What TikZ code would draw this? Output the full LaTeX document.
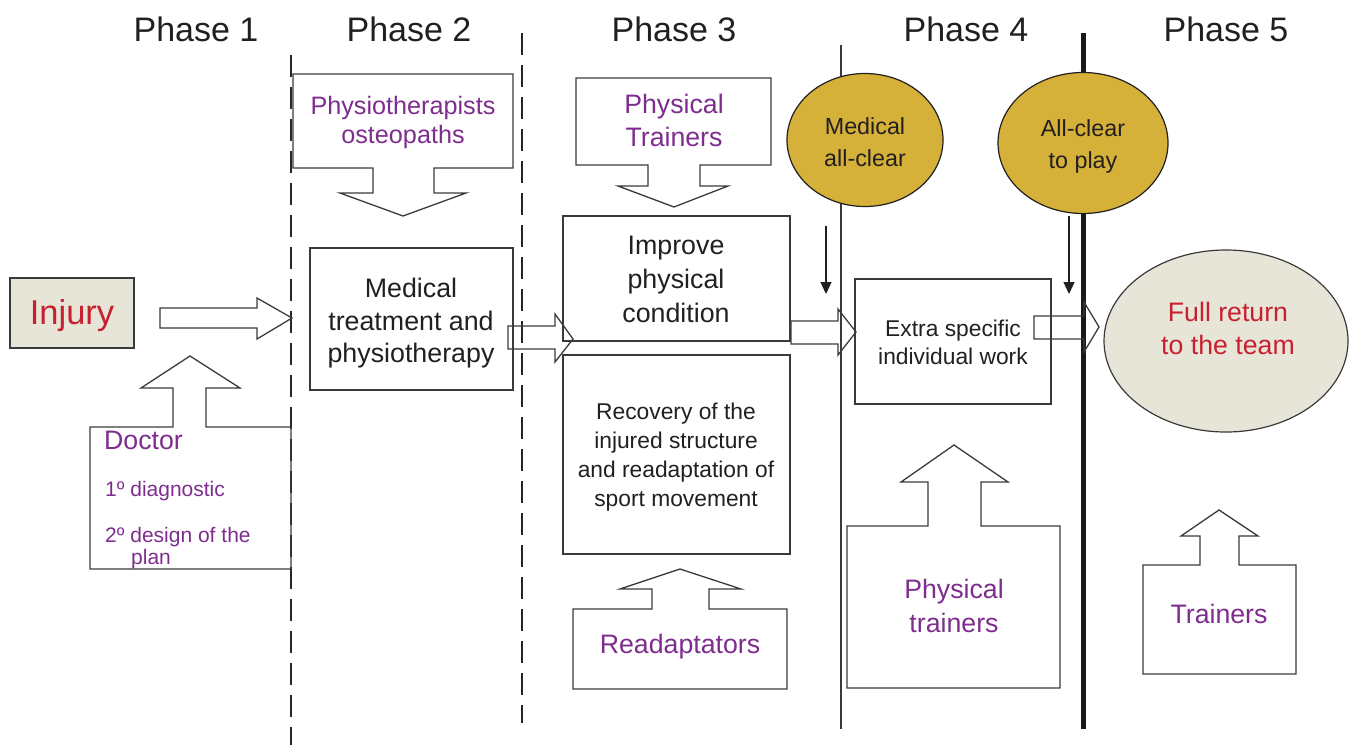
\documentclass[tikz,border=0pt]{standalone}
\usepackage{fontspec}
\setmainfont{Liberation Sans}
\usetikzlibrary{arrows.meta,shapes.geometric}
\definecolor{txt}{HTML}{231F20}
\definecolor{purp}{HTML}{7E2D8E}
\definecolor{redt}{HTML}{C8202F}
\definecolor{beige}{HTML}{E7E5D8}
\definecolor{gold}{HTML}{D5B13A}
\definecolor{edge}{HTML}{3A3A3A}
\tikzset{
  box/.style={draw=edge, line width=1.3pt, inner sep=0pt},
  shp/.style={draw=edge, line width=1.3pt, line join=miter},
  phase/.style={anchor=base, inner sep=0pt, text=txt, font=\fontsize{34}{40}\selectfont},
  bt/.style={anchor=base, inner sep=0pt, text=txt, font=\fontsize{26.8}{30}\selectfont},
  st/.style={anchor=base, inner sep=0pt, text=txt, font=\fontsize{22.8}{26}\selectfont},
  et/.style={anchor=base, inner sep=0pt, text=txt, font=\fontsize{23.3}{26}\selectfont},
  pt/.style={anchor=base, inner sep=0pt, text=purp, font=\fontsize{26.7}{30}\selectfont},
  spt/.style={anchor=base west, inner sep=0pt, text=purp, font=\fontsize{21}{24}\selectfont},
  dline/.style={line width=2.6pt, draw=black!85, dash pattern=on 22pt off 10pt},
  thin arrow/.style={draw=txt, line width=1.3pt, -{Triangle[length=12pt,width=11pt]}}
}
\begin{document}
\begin{tikzpicture}[x=1pt,y=-1pt]
\useasboundingbox (0,0) rectangle (1354,745);
% phase labels
\node[phase] (p1) at (196,41) {Phase 1};
\node[phase] (p2) at (409,41) {Phase 2};
\node[phase] (p3) at (674,41) {Phase 3};
\node[phase] (p4) at (966,41) {Phase 4};
\node[phase] (p5) at (1226,41) {Phase 5};
% separators
\coordinate (l1t) at (291,55); \coordinate (l1b) at (291,745);
\coordinate (l2t) at (522,33); \coordinate (l2b) at (522,723);
\coordinate (l3t) at (841,45); \coordinate (l3b) at (841,729);
\coordinate (l4t) at (1083,33); \coordinate (l4b) at (1083,729);
\draw[dline] (l1t) -- (l1b);
\draw[dline] (l2t) -- (l2b);
\draw[draw=edge, line width=1.5pt] (l3t) -- (l3b);
% ellipses gold
\node[ellipse, draw=txt, line width=1.2pt, fill=gold, minimum width=156pt, minimum height=133pt, inner sep=0pt] (mac) at (865,140) {};
\node[et] (mac1) at (865,134) {Medical};
\node[et] (mac2) at (865,166) {all-clear};
\draw[line width=5pt, draw=black!90] (l4t) -- (1083,72);
\draw[line width=5pt, draw=black!90] (1083,213) -- (l4b);
\node[ellipse, draw=txt, line width=1.2pt, fill=gold, minimum width=170pt, minimum height=141pt, inner sep=0pt] (acp) at (1083,143) {};
\node[et] (acp1) at (1083,136) {All-clear};
\node[et] (acp2) at (1083,168) {to play};
% Injury
\node[box, fill=beige, minimum width=124pt, minimum height=70pt] (inj) at (72,313) {};
\node[anchor=base, inner sep=0pt, text=redt, font=\fontsize{34.5}{40}\selectfont] (injt) at (72,324) {Injury};
% Injury arrow
\draw[shp] (160,308) -- (257,308) -- (257,298) -- (292,318) -- (257,339) -- (257,328) -- (160,328) -- cycle;
% Doctor callout
\draw[shp] (90,427) -- (173,427) -- (173,388) -- (141,388) -- (190,356) -- (240,388) -- (206,388) -- (206,427) -- (291,427) -- (291,569) -- (90,569) -- cycle;
\node[anchor=base west, inner sep=0pt, text=purp, font=\fontsize{26.7}{30}\selectfont] (doc) at (104,449) {Doctor};
\node[spt] (doc1) at (105,496) {1º diagnostic};
\node[spt] (doc2) at (105,542) {2º design of the};
\node[spt] (doc3) at (131,564) {plan};
% Physiotherapists callout
\draw[shp] (293,74) -- (513,74) -- (513,168) -- (434,168) -- (434,193) -- (466,193) -- (403,216) -- (340,193) -- (373,193) -- (373,168) -- (293,168) -- cycle;
\node[pt, font=\fontsize{25.2}{29}\selectfont] (phy1) at (403,114) {Physiotherapists};
\node[pt, font=\fontsize{25.2}{29}\selectfont] (phy2) at (403,143) {osteopaths};
% Medical treatment
\node[box, minimum width=203pt, minimum height=142pt] (med) at (411.5,319) {};
\node[bt] (med1) at (411,297) {Medical};
\node[bt] (med2) at (411,330) {treatment and};
\node[bt] (med3) at (411,362) {physiotherapy};
% arrow 2->3
\draw[shp] (508,326) -- (555,326) -- (555,314) -- (573,339) -- (555,362) -- (555,349) -- (508,349) -- cycle;
% Physical Trainers callout (top)
\draw[shp] (576,78) -- (771,78) -- (771,165) -- (700,165) -- (700,186) -- (728,186) -- (674,207) -- (618,186) -- (648,186) -- (648,165) -- (576,165) -- cycle;
\node[pt] (ptr1) at (674,113) {Physical};
\node[pt] (ptr2) at (674,146) {Trainers};
% Improve box
\node[box, minimum width=227pt, minimum height=125pt] (imp) at (676.5,278.5) {};
\node[bt] (imp1) at (676,254) {Improve};
\node[bt] (imp2) at (676,288) {physical};
\node[bt] (imp3) at (676,322) {condition};
% Recovery box
\node[box, minimum width=227pt, minimum height=199pt] (rec) at (676.5,454.5) {};
\node[st] (rec1) at (676,419) {Recovery of the};
\node[st] (rec2) at (676,448) {injured structure};
\node[st] (rec3) at (676,477) {and readaptation of};
\node[st] (rec4) at (676,506) {sport movement};
% Readaptators callout
\draw[shp] (573,609) -- (652,609) -- (652,589) -- (620,589) -- (680,569) -- (741,589) -- (709,589) -- (709,609) -- (787,609) -- (787,689) -- (573,689) -- cycle;
\node[pt] (rea) at (680,653) {Readaptators};
% arrow 3->4
\draw[shp] (791,321) -- (838,321) -- (838,309) -- (856,332) -- (838,355) -- (838,344) -- (791,344) -- cycle;
% thin arrows
\coordinate (a1s) at (826,226); \coordinate (a1e) at (826,294);
\coordinate (a2s) at (1069,216); \coordinate (a2e) at (1069,294);
\draw[thin arrow] (a1s) -- (a1e);
\draw[thin arrow] (a2s) -- (a2e);
% Extra specific
\node[box, minimum width=196pt, minimum height=125pt] (ext) at (953,341.5) {};
\node[st] (ext1) at (953,336) {Extra specific};
\node[st] (ext2) at (953,364) {individual work};
% arrow 4->5
\draw[shp] (1034,316) -- (1084,316) -- (1084,302) -- (1099,327) -- (1084,352) -- (1084,339) -- (1034,339) -- cycle;
% Physical trainers callout (bottom)
\draw[shp] (847,526) -- (928,526) -- (928,482) -- (901,482) -- (954,445) -- (1008,482) -- (981,482) -- (981,526) -- (1060,526) -- (1060,688) -- (847,688) -- cycle;
\node[pt] (ptb1) at (954,598) {Physical};
\node[pt] (ptb2) at (954,632) {trainers};
% Full return
\node[ellipse, draw=edge, line width=1.2pt, fill=beige, minimum width=244pt, minimum height=182pt, inner sep=0pt] (full) at (1226,341) {};
\node[anchor=base, inner sep=0pt, text=redt, font=\fontsize{26.7}{30}\selectfont] (full1) at (1228,321) {Full return};
\node[anchor=base, inner sep=0pt, text=redt, font=\fontsize{26.7}{30}\selectfont] (full2) at (1228,354) {to the team};
% Trainers callout
\draw[shp] (1143,565) -- (1200,565) -- (1200,536) -- (1181,536) -- (1219,510) -- (1258,536) -- (1239,536) -- (1239,565) -- (1296,565) -- (1296,674) -- (1143,674) -- cycle;
\node[pt] (trn) at (1219,623) {Trainers};
\end{tikzpicture}
\end{document}
